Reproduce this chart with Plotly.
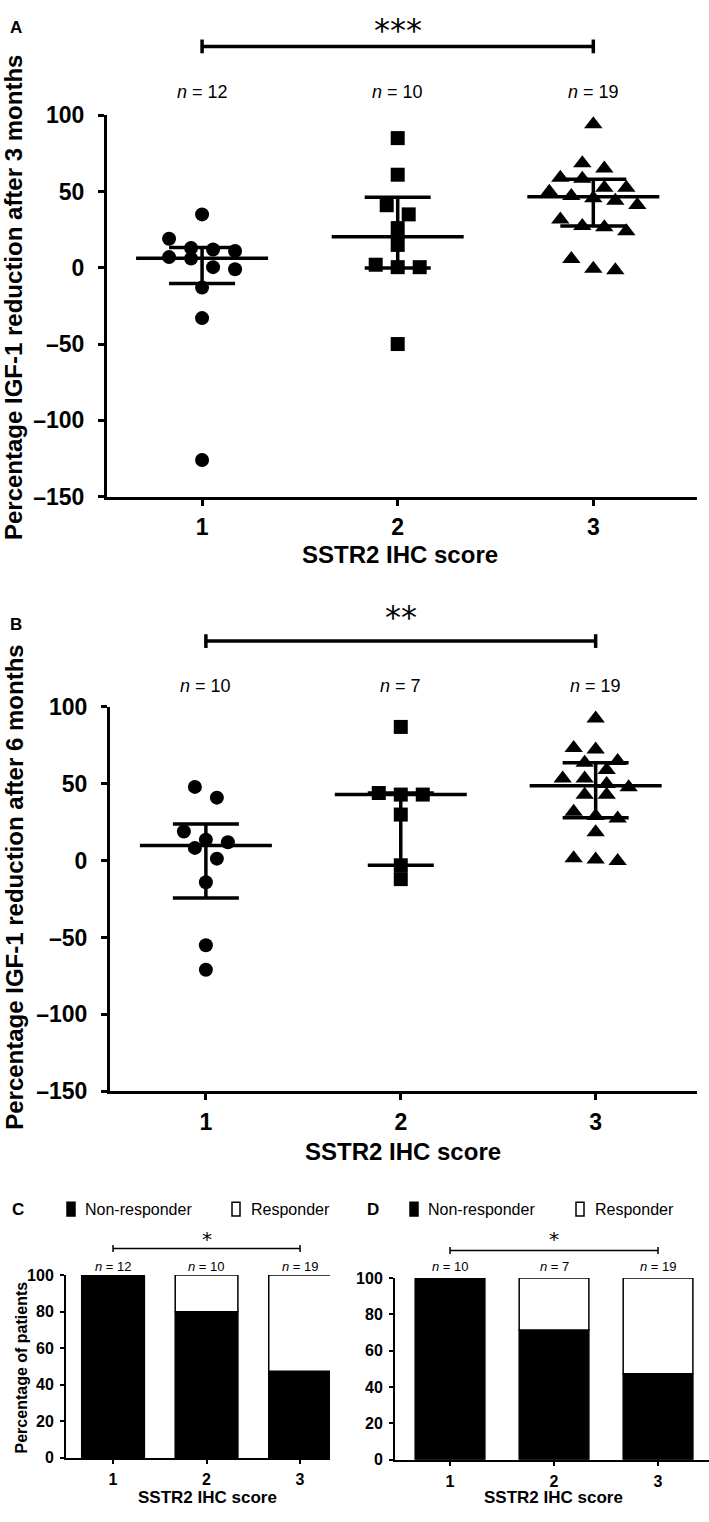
import plotly.graph_objects as go

W, H = 709, 1522

# ---------------- data ----------------
groups = [1, 2, 3]
xtick_labels = ["1", "2", "3"]
ytick_vals_ab = [-150, -100, -50, 0, 50, 100]
ytick_text_ab = ["–150", "–100", "–50", "0", "50", "100"]
ytick_vals_cd = [0, 20, 40, 60, 80, 100]
ytick_text_cd = ["0", "20", "40", "60", "80", "100"]

n_A = [12, 10, 19]
n_B = [10, 7, 19]
n_C = [12, 10, 19]
n_D = [10, 7, 19]

# Panel A: % IGF-1 reduction after 3 months
A_score1 = [35, 19, 12, 11, 13, 7, 6, 0.4, -1, -13, -33, -126]
A_score2 = [85, 61, 41, 35, 26, 15, 0.4, 0.4, 2, -50]
A_score3 = [94, 68.5, 65, 59, 58.4, 52.4, 52.4, 49.8, 45.5, 47, 44, 41.2,
            31.6, 26.6, 24, 27.3, 5.8, -1.7, -0.6]
A_center = [6.2, 20.4, 46.6]
A_low = [-10.3, -0.2, 27.3]
A_high = [13.3, 46.2, 58.0]

# Panel B: % IGF-1 reduction after 6 months
B_score1 = [48, 41, 19, 13.6, 12, 8.3, 1.3, -14, -55, -71]
B_score2 = [87, 44, 43, 43, 30, -3, -12]
B_score3 = [92.5, 72.3, 73.3, 63.7, 64.8, 59, 53.5, 53.5, 49.9, 47.8, 42.8,
            42.8, 31.8, 27.5, 29, 18.5, 1.5, -0.2, 0.8]
B_center = [9.8, 43, 48.8]
B_low = [-24.3, -3, 27.9]
B_high = [23.9, 44, 63.7]

# Panels C/D: % of patients
C_nonresp = [100, 80, 47.4]
C_resp = [0, 20, 52.6]
D_nonresp = [100, 71.4, 47.4]
D_resp = [0, 28.6, 52.6]

sig_A, sig_B, sig_C, sig_D = "***", "**", "*", "*"

# ---------------- layout helpers ----------------
NARROW = "Liberation Sans Narrow, Arial Narrow, Liberation Sans, Arial, sans-serif"
REG = "Liberation Sans, Arial, sans-serif"
STAR = "DejaVu Sans, sans-serif"


def px(x):
    return x / W


def py(y):
    return 1 - y / H


# pixel boxes for each panel: (x0, x1, ytop, ybottom, xrange, yrange)
boxes = {
    "A": (107, 697, 104, 492, [0.514, 3.53], [-150, 100]),
    "B": (110, 697, 706, 1097, [0.508, 3.52], [-150, 100]),
    "C": (66, 330, 1284, 1470, [0.497, 3.32], [0, 100]),
    "D": (395, 709, 1287, 1472, [0.471, 3.49], [0, 100]),
}
axis_ids = {"A": ("x", "y"), "B": ("x2", "y2"), "C": ("x3", "y3"), "D": ("x4", "y4")}


def scales(key):
    x0, x1, yt, yb, xr, yr = boxes[key]
    return (x1 - x0) / (xr[1] - xr[0]), (yb - yt) / (yr[1] - yr[0])


def swarm(values, center, step, bin_units):
    order = sorted(range(len(values)), key=lambda i: -values[i])
    xs = [center] * len(values)
    rows, cur = [], [order[0]]
    for i in order[1:]:
        if values[cur[0]] - values[i] < bin_units:
            cur.append(i)
        else:
            rows.append(cur)
            cur = [i]
    rows.append(cur)
    for row in rows:
        n = len(row)
        for j, i in enumerate(row):
            xs[i] = center + (j - (n - 1) / 2) * step
    return xs


fig = go.Figure()

symbols = ["circle", "square", "triangle-up"]
msizes = [14, 14, 16]


def dot_panel(key, series, center, low, high):
    xa, ya = axis_ids[key]
    sx, sy = scales(key)
    step = 22 / sx
    bin_units = 14 / sy
    for g, vals, sym, ms in zip(groups, series, symbols, msizes):
        xs = swarm(vals, g, step, bin_units)
        fig.add_trace(go.Scatter(x=xs, y=vals, mode="markers", xaxis=xa, yaxis=ya,
                                 marker=dict(symbol=sym, size=ms, color="black"),
                                 cliponaxis=False, showlegend=False, hoverinfo="y"))
    hw, cw = 66 / sx, 33 / sx
    lx, ly = [], []
    for g, c, lo, hi in zip(groups, center, low, high):
        lx += [g - hw, g + hw, None, g - cw, g + cw, None, g - cw, g + cw, None, g, g, None]
        ly += [c, c, None, hi, hi, None, lo, lo, None, lo, hi, None]
    fig.add_trace(go.Scatter(x=lx, y=ly, mode="lines", xaxis=xa, yaxis=ya,
                             line=dict(color="black", width=3.5), cliponaxis=False,
                             showlegend=False, hoverinfo="skip"))


dot_panel("A", [A_score1, A_score2, A_score3], A_center, A_low, A_high)
dot_panel("B", [B_score1, B_score2, B_score3], B_center, B_low, B_high)


def bar_panel(key, nonresp, resp):
    xa, ya = axis_ids[key]
    fig.add_trace(go.Bar(x=groups, y=nonresp, xaxis=xa, yaxis=ya, width=0.67,
                         marker=dict(color="black", line=dict(color="black", width=1.5)),
                         name="Non-responder", showlegend=False))
    fig.add_trace(go.Bar(x=groups, y=resp, base=nonresp, xaxis=xa, yaxis=ya, width=0.67,
                         marker=dict(color="white", line=dict(color="black", width=1.5)),
                         name="Responder", showlegend=False))


bar_panel("C", C_nonresp, C_resp)
bar_panel("D", D_nonresp, D_resp)

layout = dict(width=W, height=H, margin=dict(l=0, r=0, t=0, b=0),
              plot_bgcolor="white", paper_bgcolor="white", barmode="overlay",
              showlegend=False)

for idx, key in enumerate(["A", "B", "C", "D"]):
    x0, x1, yt, yb, xr, yr = boxes[key]
    big = key in ("A", "B")
    sfx = "" if idx == 0 else str(idx + 1)
    lw = 3 if big else 2
    layout["xaxis" + sfx] = dict(
        domain=[px(x0), px(x1)], range=xr, anchor="y" + sfx,
        tickvals=groups, ticktext=xtick_labels, ticks="outside",
        ticklen=6 if big else 4, tickwidth=lw, tickcolor="black",
        showline=True, linewidth=lw, linecolor="black", showgrid=False, zeroline=False,
        tickfont=dict(family=NARROW, size=23 if big else 16, color="black", weight="bold"),
        ticklabelstandoff=2, fixedrange=True)
    layout["yaxis" + sfx] = dict(
        domain=[py(yb), py(yt)], range=yr, anchor="x" + sfx,
        tickvals=ytick_vals_ab if big else ytick_vals_cd,
        ticktext=ytick_text_ab if big else ytick_text_cd,
        ticks="outside", ticklen=6 if big else 4, tickwidth=lw, tickcolor="black",
        showline=True, linewidth=lw, linecolor="black", showgrid=False, zeroline=False,
        tickfont=dict(family=NARROW, size=23 if big else 16, color="black", weight="bold"),
        ticklabelstandoff=9 if big else 3, fixedrange=True)

ann = []
shapes = []


def text(x, y, s, size, family=REG, bold=False, xref="paper", xa="center", ya="middle", angle=0):
    ann.append(dict(x=x, y=y, xref=xref, yref="paper", text=s, showarrow=False,
                    xanchor=xa, yanchor=ya, textangle=angle,
                    font=dict(family=family, size=size, color="black",
                              weight="bold" if bold else "normal")))


def bracket(xa, ypx, cap, width):
    shapes.append(dict(type="line", xref=xa, yref="paper", x0=groups[0], x1=groups[-1],
                       y0=py(ypx), y1=py(ypx), line=dict(color="black", width=width)))
    for g in (groups[0], groups[-1]):
        shapes.append(dict(type="line", xref=xa, yref="paper", x0=g, x1=g,
                           y0=py(ypx - cap), y1=py(ypx + cap), line=dict(color="black", width=width)))


# Panel A texts
text(px(16), py(15), "A", 17, bold=True)
text(groups[1], py(17), sig_A, 32, family=STAR, xref="x")
bracket("x", 34, 7, 3.5)
for g, n in zip(groups, n_A):
    text(g, py(80), f"<i>n</i> = {n}", 18, family=NARROW, xref="x")
text(px(13), py(290), "Percentage IGF-1 reduction after 3 months", 24, bold=True, angle=-90)
text(px(400), py(551), "SSTR2 IHC score", 24, family=NARROW, bold=True)

# Panel B texts
text(px(16), py(622), "B", 17, bold=True)
text(groups[1], py(614), sig_B, 32, family=STAR, xref="x2")
bracket("x2", 639, 7, 3.5)
for g, n in zip(groups, n_B):
    text(g, py(685), f"<i>n</i> = {n}", 18, family=NARROW, xref="x2")
text(px(15), py(890), "Percentage IGF-1 reduction after 6 months", 24, bold=True, angle=-90)
text(px(403), py(1158), "SSTR2 IHC score", 24, family=NARROW, bold=True)

# Panel C / D texts
for key, lab, labx, blk, wht, sig, xa, n_list, bry in [
        ("C", "C", 18, 67, 232, sig_C, "x3", n_C, 1257),
        ("D", "D", 373, 410, 576, sig_D, "x4", n_D, 1259)]:
    text(px(labx), py(1217), lab, 17, bold=True)
    shapes.append(dict(type="rect", xref="paper", yref="paper", x0=px(blk), x1=px(blk + 8),
                       y0=py(1224), y1=py(1210), fillcolor="black", line=dict(color="black", width=1.5)))
    shapes.append(dict(type="rect", xref="paper", yref="paper", x0=px(wht), x1=px(wht + 8),
                       y0=py(1224), y1=py(1210), fillcolor="white", line=dict(color="black", width=1.5)))
    text(px(blk + 16), py(1217), "Non-responder", 16, family=NARROW, xa="left")
    text(px(wht + 17), py(1217), "Responder", 16, family=NARROW, xa="left")
    text(groups[1], py(1247), sig, 20, family=STAR, xref=xa)
    bracket(xa, bry, 3.5, 1.5)
    for g, n in zip(groups, n_list):
        text(g, py(1275), f"<i>n</i> = {n}", 13, family=NARROW, xref=xa)

text(px(21), py(1378), "Percentage of patients", 16, bold=True, angle=-90)
text(px(207), py(1510), "SSTR2 IHC score", 17, family=NARROW, bold=True)
text(px(553), py(1510), "SSTR2 IHC score", 17, family=NARROW, bold=True)

layout["annotations"] = ann
layout["shapes"] = shapes
fig.update_layout(**layout)
fig.write_html("out.html", config={"displayModeBar": False},
               post_script="document.body.style.margin='0px';document.body.style.overflow='hidden';")
